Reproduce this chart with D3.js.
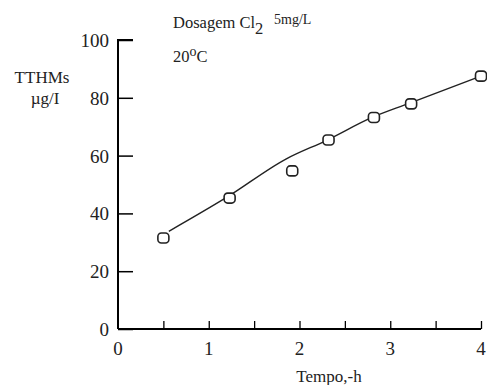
<!DOCTYPE html>
<html lang="en">
<head>
  <meta charset="UTF-8" />
  <title>TTHMs vs Tempo</title>
  <script src="https://d3js.org/d3.v7.min.js"></script>
  <style>
    body {
      margin: 0;
      background: #fff;
    }

    svg {
      font-family: "Liberation Serif", "DejaVu Serif", serif;
    }
  </style>
</head>
<body>
  <svg id="chart" width="487" height="385"></svg>

  <script>
    // observed points (Tempo in h, TTHMs in µg/L)
    const tempo = [0.5, 1.23, 1.92, 2.32, 2.82, 3.23, 4.0];
    const tthms = [31.5, 45.3, 54.7, 65.4, 73.2, 77.9, 87.5];

    // fitted curve
    const fitTempo = [0.56, 1.2, 1.85, 2.3, 2.8, 3.2, 4.0];
    const fitTthms = [33.8, 45.6, 58.8, 65.3, 73.2, 78.0, 87.5];

    const xTicks = [0, 1, 2, 3, 4];
    const xMinorTicks = [0.5, 1, 1.5, 2, 2.5, 3, 3.5, 4];
    const yTicks = [0, 20, 40, 60, 80, 100];

    const svg = d3.select("#chart");

    const x = d3.scaleLinear().domain([0, 4]).range([118, 481]);
    const y = d3.scaleLinear().domain([0, 100]).range([329, 40]);

    // y axis, ticks pointing inward
    const yAxis = svg.append("g")
      .attr("transform", `translate(${x(0)},0)`)
      .call(d3.axisRight(y).tickValues(yTicks).tickSize(15).tickFormat(""));
    yAxis.select(".domain").attr("d", `M0,${y(0)}V${y(100)}H15`).attr("stroke-width", 2);
    yAxis.selectAll(".tick line").attr("stroke-width", 1.5);

    svg.append("g")
      .selectAll("text")
      .data(yTicks)
      .join("text")
      .attr("x", x(0) - 9)
      .attr("y", d => y(d) + 7)
      .attr("text-anchor", "end")
      .attr("font-size", 19)
      .attr("fill", "#222")
      .text(d => d);

    // x axis, ticks pointing up
    const xAxis = svg.append("g")
      .attr("transform", `translate(0,${y(0)})`)
      .call(d3.axisTop(x).tickValues(xMinorTicks).tickSize(8).tickFormat(""));
    xAxis.select(".domain").attr("d", `M${x(0)},0H${x(4)}`).attr("stroke-width", 2);
    xAxis.selectAll(".tick line").attr("stroke-width", 1.3);

    svg.append("g")
      .selectAll("text")
      .data(xTicks)
      .join("text")
      .attr("x", d => x(d))
      .attr("y", y(0) + 26)
      .attr("text-anchor", "middle")
      .attr("font-size", 19)
      .attr("fill", "#222")
      .text(d => d);

    // axis titles
    svg.append("text")
      .attr("x", 329).attr("y", 382)
      .attr("text-anchor", "middle")
      .attr("font-size", 17)
      .attr("fill", "#222")
      .text("Tempo,-h");

    svg.append("text")
      .attr("x", 42).attr("y", 83)
      .attr("text-anchor", "middle")
      .attr("font-size", 17)
      .attr("fill", "#222")
      .text("TTHMs");
    svg.append("text")
      .attr("x", 45).attr("y", 104)
      .attr("text-anchor", "middle")
      .attr("font-size", 17)
      .attr("fill", "#222")
      .text("µg/I");

    // annotations
    const dose = svg.append("text")
      .attr("x", 173).attr("y", 28)
      .attr("font-size", 16.5)
      .attr("fill", "#222");
    dose.append("tspan").text("Dosagem Cl");
    dose.append("tspan").attr("dy", 6).text("2");
    dose.append("tspan").attr("x", 274).attr("dy", -10).attr("font-size", 14).text("5mg/L");

    const temp = svg.append("text")
      .attr("x", 173).attr("y", 62)
      .attr("font-size", 16.5)
      .attr("fill", "#222");
    temp.append("tspan").text("20");
    temp.append("tspan").attr("dy", -6).attr("font-size", 14).text("o");
    temp.append("tspan").attr("dy", 6).text("C");

    // fitted line
    const fit = fitTempo.map((t, i) => [t, fitTthms[i]]);
    svg.append("path")
      .datum(fit)
      .attr("fill", "none")
      .attr("stroke", "#222")
      .attr("stroke-width", 1.4)
      .attr("d", d3.line().x(d => x(d[0])).y(d => y(d[1])).curve(d3.curveMonotoneX));

    // open square-ish markers
    const pts = tempo.map((t, i) => [t, tthms[i]]);
    svg.append("g")
      .selectAll("rect")
      .data(pts)
      .join("rect")
      .attr("x", d => x(d[0]) - 5.5)
      .attr("y", d => y(d[1]) - 5)
      .attr("width", 11)
      .attr("height", 10)
      .attr("rx", 3.5)
      .attr("fill", "#fff")
      .attr("stroke", "#222")
      .attr("stroke-width", 1.6);
  </script>
</body>
</html>
